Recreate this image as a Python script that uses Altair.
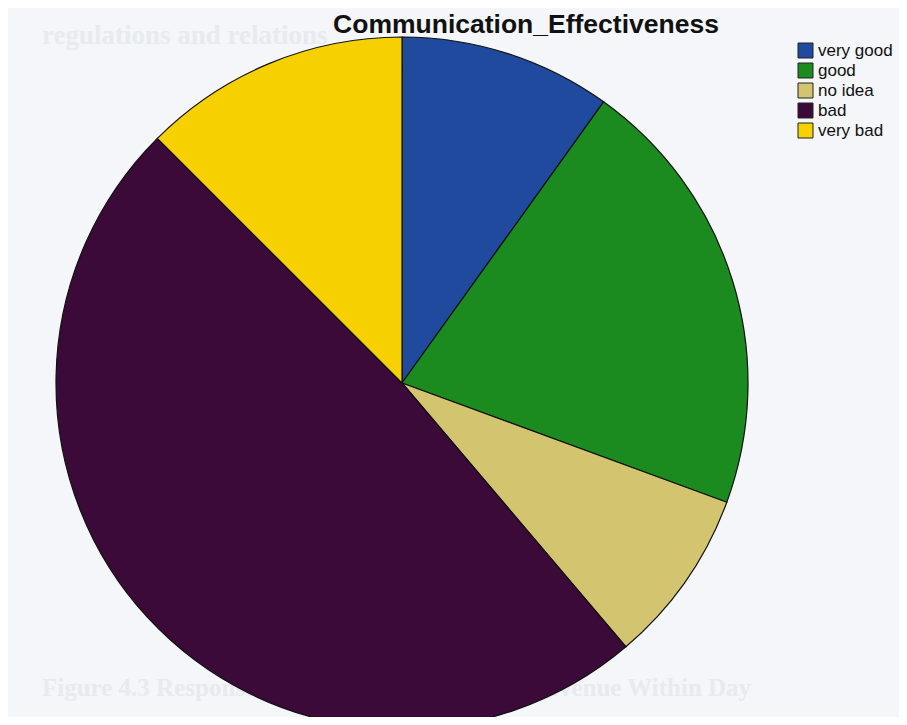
import altair as alt
import pandas as pd

categories = ["very good", "good", "no idea", "bad", "very bad"]
percent = [9.9, 20.7, 8.2, 48.7, 12.5]
colors = ["#1f4a9e", "#1b8a1f", "#d3c56f", "#3b0a38", "#f7d000"]
chart_title = "Communication_Effectiveness"

df = pd.DataFrame({"category": categories, "percent": percent, "order": list(range(len(categories)))})

W, H = 891, 709
CX, CY = 394, 375
R = 346

pie = alt.Chart(df).mark_arc(stroke="#111111", strokeWidth=1.2, radius=R).encode(
    theta=alt.Theta("percent:Q", stack=True),
    order=alt.Order("order:Q"),
    x=alt.value(CX),
    y=alt.value(CY),
    color=alt.Color(
        "category:N",
        sort=categories,
        scale=alt.Scale(domain=categories, range=colors),
        legend=alt.Legend(
            title=None,
            orient="none",
            legendX=789,
            legendY=34,
            symbolType="square",
            symbolSize=225,
            symbolStrokeColor="#222222",
            symbolStrokeWidth=1,
            symbolOpacity=1,
            labelFontSize=17,
            labelFont="Liberation Sans",
            labelColor="#111111",
            labelOffset=4,
            rowPadding=1,
            padding=0,
        ),
    ),
)

title_df = pd.DataFrame({"t": [chart_title]})
title = alt.Chart(title_df).mark_text(
    font="Liberation Sans", fontSize=26.5, fontWeight="bold", color="#111111",
    align="center", baseline="alphabetic",
).encode(text="t:N", x=alt.value(518), y=alt.value(25))

ghost_df = pd.DataFrame({"t": ["regulations and relations"]})
ghost = alt.Chart(ghost_df).mark_text(
    font="Liberation Serif", fontSize=27, fontWeight="bold", color="#e7eaef",
    align="left", baseline="alphabetic",
).encode(text="t:N", x=alt.value(34), y=alt.value(36))

ghost2_df = pd.DataFrame({"t": ["Figure 4.3 Responses on Communication and Revenue Within Day"]})
ghost2 = alt.Chart(ghost2_df).mark_text(
    font="Liberation Serif", fontSize=25, fontWeight="bold", color="#e7eaef",
    align="left", baseline="alphabetic",
).encode(text="t:N", x=alt.value(34), y=alt.value(688))

chart = alt.layer(ghost, ghost2, pie, title).properties(
    width=W, height=H,
    autosize=alt.AutoSizeParams(type="none"),
    padding=0,
    background="#f4f6f9",
).configure_view(stroke=None)

chart.save("out.html", embed_options={"renderer": "svg", "actions": False})
